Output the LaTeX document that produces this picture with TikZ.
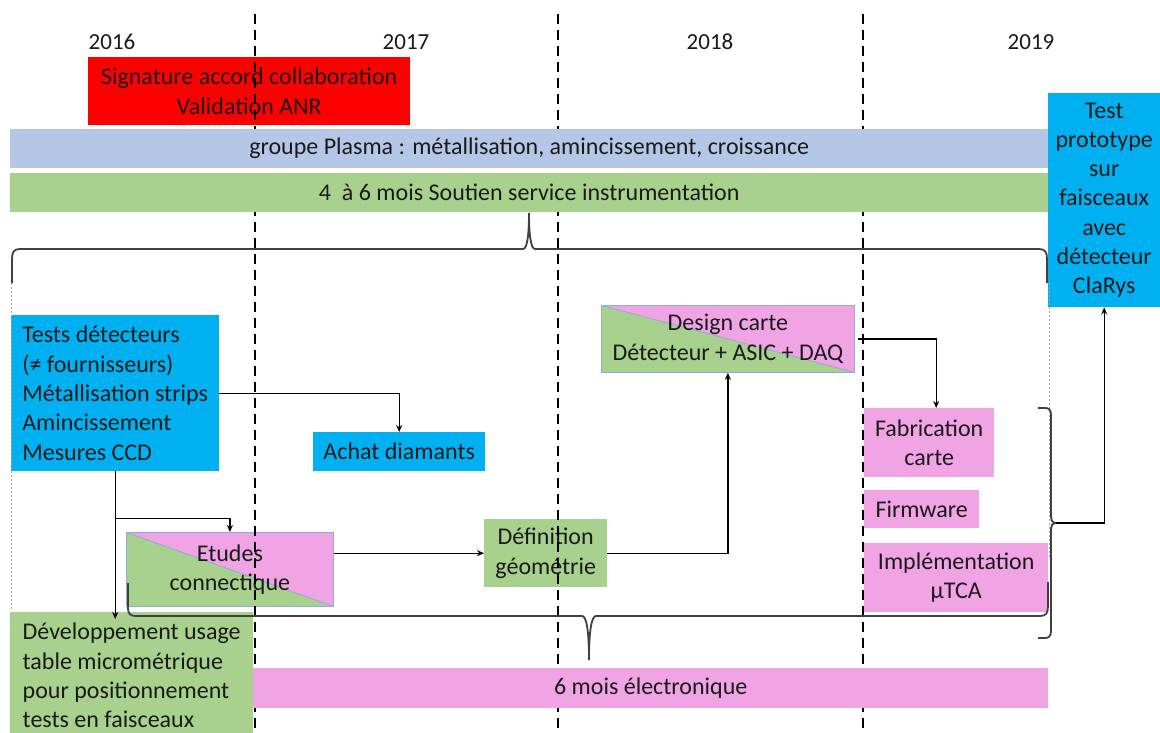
\documentclass[tikz,border=0pt]{standalone}
\usepackage{fontspec}
\setmainfont{Carlito}
\usetikzlibrary{calc,arrows.meta}
\definecolor{pinkc}{HTML}{F0A4E4}
\definecolor{greenc}{HTML}{A9D18E}
\definecolor{lblue}{HTML}{B4C7E7}
\definecolor{cyanc}{HTML}{00B0F0}
\definecolor{redc}{HTML}{FF0000}
\definecolor{bordc}{HTML}{8FAADC}
\definecolor{linec}{HTML}{404040}
\definecolor{txtc}{HTML}{1A1A1A}
\begin{document}
\begin{tikzpicture}[x=1pt,y=-1pt,
  box/.style={inner sep=0pt, align=center, text=txtc, font=\fontsize{24}{29.3}\selectfont, anchor=north west},
  yr/.style={inner sep=0pt, text=txtc, font=\fontsize{23}{28}\selectfont},
  split/.style={box, fill=greenc, draw=bordc, line width=0.8pt,
    path picture={
      \fill[pinkc] (path picture bounding box.north west) -- (path picture bounding box.north east) -- (path picture bounding box.south east) -- cycle;
      \draw[bordc, line width=0.8pt] (path picture bounding box.north west) -- (path picture bounding box.south east);}},
  arr/.style={-{Stealth[length=7pt,width=6pt]}, line width=1.4pt, black},
  brc/.style={line width=1.8pt, linec},
  vdash/.style={line width=2.7pt, black, dash pattern=on 10pt off 6pt},
  dotl/.style={gray!70, line width=0.8pt, dash pattern=on 2pt off 2pt}]
\useasboundingbox (0,0) rectangle (1160,733);
\fill[white] (0,0) rectangle (1160,733);

% year labels
\node[yr] (y16) at (112,42) {2016};
\node[yr] (y17) at (406,42) {2017};
\node[yr] (y18) at (710,42) {2018};
\node[yr] (y19) at (1031,42) {2019};

% boxes
\node[box, fill=redc, minimum width=322, minimum height=68] (sig) at (88,57) {Signature accord collaboration\\Validation ANR};
\node[box, fill=cyanc, minimum width=112, minimum height=214] (clarys) at (1048,93) {Test\\prototype\\sur\\faisceaux\\avec\\détecteur\\ClaRys};
\node[box, fill=cyanc, minimum width=208, minimum height=156, align=left, inner xsep=11pt] (tests) at (11,315) {Tests détecteurs\\(≠ fournisseurs)\\Métallisation strips\\Amincissement\\Mesures CCD};
\node[box, fill=cyanc, minimum width=172, minimum height=39] (achat) at (313,432) {Achat diamants};
\node[split, minimum width=207, minimum height=74] (etudes) at (126,532) {Etudes\\connectique};
\node[box, fill=greenc, minimum width=123, minimum height=68] (def) at (484,519) {Définition\\géométrie};
\node[split, minimum width=253, minimum height=67] (design) at (601,305) {Design carte\\Détecteur + ASIC + DAQ};
\node[box, fill=pinkc, minimum width=130, minimum height=69] (fab) at (864,408) {Fabrication\\carte};
\node[box, fill=pinkc, minimum width=115, minimum height=38] (firm) at (864,490) {Firmware};
\node[box, fill=pinkc, minimum width=184, minimum height=69] (impl) at (864,543) {Implémentation\\µTCA};
\node[box, fill=greenc, minimum width=243, minimum height=127, align=left, inner xsep=10pt] (dev) at (10,612) {Développement usage\\table micrométrique\\pour positionnement\\tests en faisceaux};

% dashed year separators
\draw[vdash] (255,14) -- (255,733);
\draw[vdash] (558,14) -- (558,733);
\draw[vdash] (863,14) -- (863,733);

% bars
\node[box, fill=lblue, minimum width=1038, minimum height=39] (plasma) at (10,129) {groupe Plasma : métallisation, amincissement, croissance};
\node[box, fill=greenc, minimum width=1038, minimum height=39] (soutien) at (10,173) {4\ \ à 6 mois Soutien service instrumentation};
\node[box, fill=pinkc, minimum width=795, minimum height=40] (elec) at (253,668) {6 mois électronique};

% dotted guide lines
\draw[dotl] (11,283) -- (11,610);
\draw[dotl] (1049,283) -- (1049,557);

% top brace
\draw[brc] (12,283) -- (12,259) .. controls (12,252) and (14,249) .. (20,249) -- (523,249)
  .. controls (527,249) and (529,236) .. (529,213) .. controls (529,236) and (531,249) .. (535,249)
  -- (1039,249) .. controls (1045,249) and (1047,252) .. (1047,259) -- (1047,283);

% bottom brace
\draw[brc] (128,583) -- (128,607) .. controls (128,614) and (130,616) .. (136,616) -- (582,616)
  .. controls (586,616) and (589,628) .. (589,660) .. controls (589,628) and (592,616) .. (596,616)
  -- (1040,616) .. controls (1046,616) and (1048,613) .. (1048,606) -- (1048,582);

% right bracket
\coordinate (rb) at (1056,523);
\draw[brc] (1038,408) -- (1045,408) .. controls (1049,408) and (1051,410) .. (1051,415) -- (1051,515)
  .. controls (1051,520) and (1052,523) .. (rb) .. controls (1052,523) and (1051,526) .. (1051,531)
  -- (1051,631) .. controls (1051,636) and (1049,638) .. (1045,638) -- (1038,638);

% connectors
\draw[arr] (tests.south) -- ([yshift=-7pt]tests.south |- dev.north);
\draw[arr] ($(tests.south)+(0,47)$) -| (etudes.north);
\draw[arr] (tests.east) -| (achat.north);
\draw[arr] (etudes.east |- def.west) -- (def.west);
\draw[arr] (def.east) -| (design.south);
\draw[arr] ([xshift=3pt]design.east) -| ([xshift=7pt]fab.north);
\draw[arr] (rb) -| (clarys.south);
\end{tikzpicture}
\end{document}
